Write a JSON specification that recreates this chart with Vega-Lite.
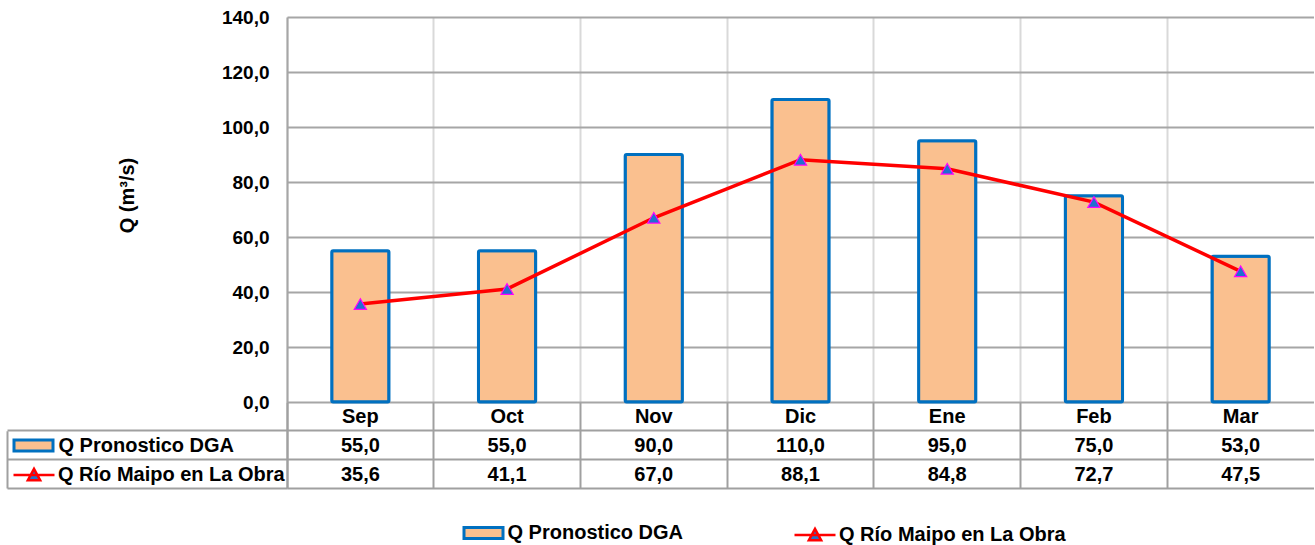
{
  "$schema": "https://vega.github.io/schema/vega-lite/v6.json",
  "padding": {"left": 6, "top": 8, "right": 0, "bottom": 0},
  "background": "white",
  "config": {
    "view": {"stroke": null},
    "font": "Liberation Sans",
    "locale": {"number": {"decimal": ",", "thousands": ".", "grouping": [3], "currency": ["$", ""]}},
    "legend": {"padding": 0, "labelFont": "Liberation Sans", "labelFontSize": 20, "labelFontWeight": "bold", "labelColor": "black", "labelLimit": 600, "labelOffset": 4, "title": null}
  },
  "datasets": {
    "meses": [
      {"mes": "Sep", "dga": 55.0, "maipo": 35.6},
      {"mes": "Oct", "dga": 55.0, "maipo": 41.1},
      {"mes": "Nov", "dga": 90.0, "maipo": 67.0},
      {"mes": "Dic", "dga": 110.0, "maipo": 88.1},
      {"mes": "Ene", "dga": 95.0, "maipo": 84.8},
      {"mes": "Feb", "dga": 75.0, "maipo": 72.7},
      {"mes": "Mar", "dga": 53.0, "maipo": 47.5}
    ]
  },
  "bounds": "flush",
  "spacing": 0,
  "resolve": {
    "scale": {"fill": "independent", "stroke": "independent"},
    "legend": {"fill": "independent", "stroke": "independent"}
  },
  "vconcat": [
    {
      "width": 1027,
      "height": 385,
      "data": {"name": "meses"},
      "encoding": {
        "x": {
          "field": "mes", "type": "nominal", "sort": null,
          "scale": {"paddingInner": 0, "paddingOuter": 0},
          "axis": {"labels": false, "ticks": false, "domain": false, "grid": true, "bandPosition": 0, "gridColor": "#D9D9D9", "gridWidth": 2, "title": null}
        }
      },
      "layer": [
        {
          "mark": {"type": "bar", "width": {"band": 0.39}, "stroke": "#0070C0", "strokeWidth": 3, "cornerRadius": 1.5},
          "encoding": {
            "y": {
              "field": "dga", "type": "quantitative", "title": "Q (m³/s)",
              "scale": {"domain": [0, 140], "nice": false},
              "axis": {
                "values": [0, 20, 40, 60, 80, 100, 120, 140], "format": ".1f",
                "grid": true, "gridColor": "#A6A6A6", "gridWidth": 2,
                "ticks": false, "domain": true, "domainColor": "#A6A6A6", "domainWidth": 2,
                "labelFont": "Liberation Sans", "labelFontSize": 19, "labelFontWeight": "bold", "labelColor": "black", "labelPadding": 18,
                "titleFont": "Liberation Sans", "titleFontSize": 20, "titleFontWeight": "bold", "titleColor": "black", "titlePadding": 84, "titleY": 178
              }
            },
            "fill": {
              "datum": "Q Pronostico DGA",
              "scale": {"range": ["#FAC08F"]},
              "legend": {
                "orient": "none", "legendX": 175.5, "legendY": 495,
                "symbolType": "M-1,-0.28H1V0.28H-1Z", "symbolSize": 1521,
                "symbolStrokeColor": "#0070C0", "symbolStrokeWidth": 3, "symbolOpacity": 1, "labelOffset": 3
              }
            }
          }
        },
        {
          "mark": {"type": "line", "strokeWidth": 3.5},
          "encoding": {
            "y": {"field": "maipo", "type": "quantitative", "title": "Q (m³/s)"},
            "stroke": {
              "datum": "Q Río Maipo en La Obra",
              "scale": {"range": ["#FF0000"]},
              "legend": {
                "orient": "none", "legendX": 506, "legendY": 496,
                "symbolType": "M-1,0H1M0,-0.3L0.3,0.25L-0.3,0.25Z", "symbolSize": 1681,
                "symbolFillColor": "#2673C8", "symbolStrokeWidth": 2.5, "symbolOpacity": 1, "labelOffset": 2
              }
            }
          }
        },
        {
          "mark": {"type": "point", "shape": "triangle-up", "filled": true, "fill": "#1F6FD0", "stroke": "#FF00FF", "strokeWidth": 1.2, "size": 150, "opacity": 1},
          "encoding": {
            "y": {"field": "maipo", "type": "quantitative", "title": "Q (m³/s)"}
          }
        }
      ]
    },
    {
      "width": 1027,
      "height": 86,
      "data": {"name": "meses"},
      "encoding": {
        "x": {
          "field": "mes", "type": "nominal", "sort": null,
          "scale": {"paddingInner": 0, "paddingOuter": 0},
          "axis": {"labels": false, "ticks": false, "domain": false, "grid": true, "bandPosition": 0, "gridColor": "#A0A0A0", "gridWidth": 2, "title": null}
        }
      },
      "resolve": {"axis": {"y": "independent"}},
      "layer": [
        {
          "mark": {"type": "text", "fontSize": 20, "fontWeight": "bold", "color": "black", "baseline": "middle", "dy": 1},
          "encoding": {
            "y": {
              "datum": "fila1", "type": "nominal",
              "scale": {"type": "band", "domain": ["fila1", "fila2", "fila3"], "paddingInner": 0, "paddingOuter": 0},
              "axis": {
                "orient": "left", "labels": false, "ticks": true, "tickSize": 280, "tickColor": "#A0A0A0", "tickWidth": 2,
                "bandPosition": 1, "domain": true, "domainColor": "#A0A0A0", "domainWidth": 2,
                "grid": true, "gridColor": "#A0A0A0", "gridWidth": 2, "title": null
              }
            },
            "text": {"field": "mes"}
          }
        },
        {
          "mark": {"type": "text", "fontSize": 20, "fontWeight": "bold", "color": "black", "baseline": "middle", "dy": 1},
          "encoding": {
            "y": {"datum": "fila2", "type": "nominal", "axis": null},
            "text": {"field": "dga", "format": ".1f"}
          }
        },
        {
          "mark": {"type": "text", "fontSize": 20, "fontWeight": "bold", "color": "black", "baseline": "middle", "dy": 1},
          "encoding": {
            "y": {"datum": "fila3", "type": "nominal", "axis": null},
            "text": {"field": "maipo", "format": ".1f"}
          }
        },
        {
          "data": {"values": []},
          "mark": {"type": "bar", "stroke": "#0070C0", "strokeWidth": 3},
          "encoding": {
            "fill": {
              "datum": "Q Pronostico DGA",
              "scale": {"range": ["#FAC08F"]},
              "legend": {
                "orient": "none", "legendX": -274.5, "legendY": 22.5,
                "symbolType": "M-1,-0.28H1V0.28H-1Z", "symbolSize": 1521,
                "symbolStrokeColor": "#0070C0", "symbolStrokeWidth": 3, "symbolOpacity": 1, "labelOffset": 4
              }
            }
          }
        },
        {
          "data": {"values": []},
          "mark": {"type": "line", "strokeWidth": 3.5},
          "encoding": {
            "y": {
              "datum": "fila1", "type": "nominal",
              "axis": {"orient": "left", "offset": 280, "labels": false, "ticks": false, "grid": false, "domain": true, "domainColor": "#A0A0A0", "domainWidth": 2, "domainDash": [0, 28.67, 57.33, 0], "title": null}
            },
            "stroke": {
              "datum": "Q Río Maipo en La Obra",
              "scale": {"range": ["#FF0000"]},
              "legend": {
                "orient": "none", "legendX": -275, "legendY": 51,
                "symbolType": "M-1,0H1M0,-0.3L0.3,0.25L-0.3,0.25Z", "symbolSize": 1681,
                "symbolFillColor": "#2673C8", "symbolStrokeWidth": 2.5, "symbolOpacity": 1, "labelOffset": 2
              }
            }
          }
        }
      ]
    }
  ]
}
